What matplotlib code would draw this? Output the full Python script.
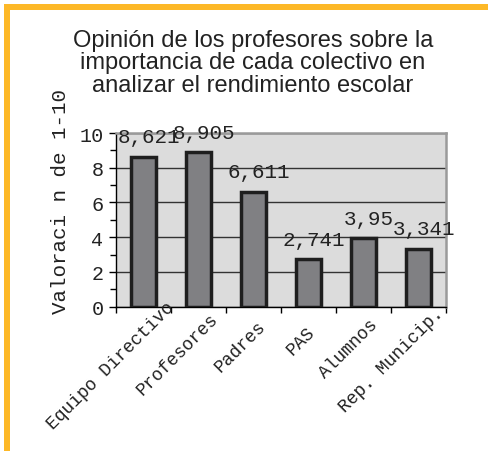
import matplotlib
matplotlib.use("Agg")
import matplotlib.pyplot as plt
import matplotlib.transforms as mtransforms
from matplotlib.patches import Rectangle
from matplotlib.ticker import FixedLocator, NullFormatter

categories = ["Equipo Directivo", "Profesores", "Padres", "PAS", "Alumnos", "Rep. Municip."]
values = [8.621, 8.905, 6.611, 2.741, 3.95, 3.341]
value_labels = ["8,621", "8,905", "6,611", "2,741", "3,95", "3,341"]
yticks = [0, 2, 4, 6, 8, 10]
title = "Opinión de los profesores sobre la\nimportancia de cada colectivo en\nanalizar el rendimiento escolar"
ylabel = "Valoraci n de 1-10"

W, H = 488, 452
MONO = "Liberation Mono"
SANS = "Liberation Sans"
TXT = "#222222"

fig = plt.figure(figsize=(W / 100, H / 100), dpi=100)
fig.patch.set_facecolor("white")

# orange frame (left and top)
orange = "#FDB827"
fig.patches.append(Rectangle((4 / W, 0), 6 / W, (H - 5) / H, transform=fig.transFigure,
                             facecolor=orange, edgecolor="none", zorder=0))
fig.patches.append(Rectangle((4 / W, 1 - 11 / H), (W - 4) / W, 6 / H, transform=fig.transFigure,
                             facecolor=orange, edgecolor="none", zorder=0))

left, right, top, bottom = 116, 446, 134, 307.7
ax = fig.add_axes([left / W, 1 - bottom / H, (right - left) / W, (bottom - top) / H])
ax.set_facecolor("#dcdcdc")

x = list(range(len(categories)))
ax.bar(x, values, width=0.45, color="#808083", edgecolor="#1e1e1e", linewidth=2.5, zorder=3)

ax.set_xlim(-0.5, len(categories) - 0.5)
ax.set_ylim(0, 10)

# gridlines
ax.yaxis.grid(True, color="#333333", linewidth=1.0, zorder=1)
ax.set_axisbelow(True)

# spines
for s in ["left", "bottom"]:
    ax.spines[s].set_color("black")
    ax.spines[s].set_linewidth(1.0)
for s in ["top", "right"]:
    ax.spines[s].set_color("#9a9a9a")
    ax.spines[s].set_linewidth(1.8)

# y ticks
ax.set_yticks(yticks)
ax.set_yticklabels([str(t) for t in yticks], fontfamily=MONO, fontsize=14.5, color=TXT)
ax.yaxis.set_minor_locator(FixedLocator([1, 3, 5, 7, 9]))
ax.tick_params(axis="y", which="major", direction="out", length=5, width=1, pad=4, color="black")
ax.tick_params(axis="y", which="minor", direction="out", length=4, width=1, color="black")

# x ticks at category boundaries
ax.set_xticks([i - 0.5 for i in range(len(categories) + 1)])
ax.xaxis.set_major_formatter(NullFormatter())
ax.tick_params(axis="x", which="major", direction="out", length=4, width=1, color="black")

# category labels, rotated
for i, lab in enumerate(categories):
    n = len(lab)
    dx = -1.8 + 1.89 * n
    dy = 26 - dx
    tr = mtransforms.blended_transform_factory(ax.transData, ax.transAxes) + \
        mtransforms.ScaledTranslation(dx / 100, -dy / 100, fig.dpi_scale_trans)
    ax.text(i, 0, lab, transform=tr, rotation=45, rotation_mode="anchor",
            ha="right", va="center", fontfamily=MONO, fontsize=13, color=TXT, clip_on=False)

# value labels
for i, (v, lab) in enumerate(zip(values, value_labels)):
    ax.annotate(lab, (i, v), xytext=(5, 20), textcoords="offset pixels", ha="center", va="center",
                fontfamily=MONO, fontsize=15, color=TXT, annotation_clip=False, zorder=5)

# y label
fig.text(60 / W, 1 - 201 / H, ylabel, rotation=90, ha="center", va="center",
         fontfamily=MONO, fontsize=15, color=TXT)

# title
fig.text(253 / W, 1 - 29.5 / H, title, ha="center", va="top", fontfamily=SANS,
         fontsize=17, color=TXT, linespacing=1.05)

fig.savefig("out.png", dpi=100, facecolor="white")
